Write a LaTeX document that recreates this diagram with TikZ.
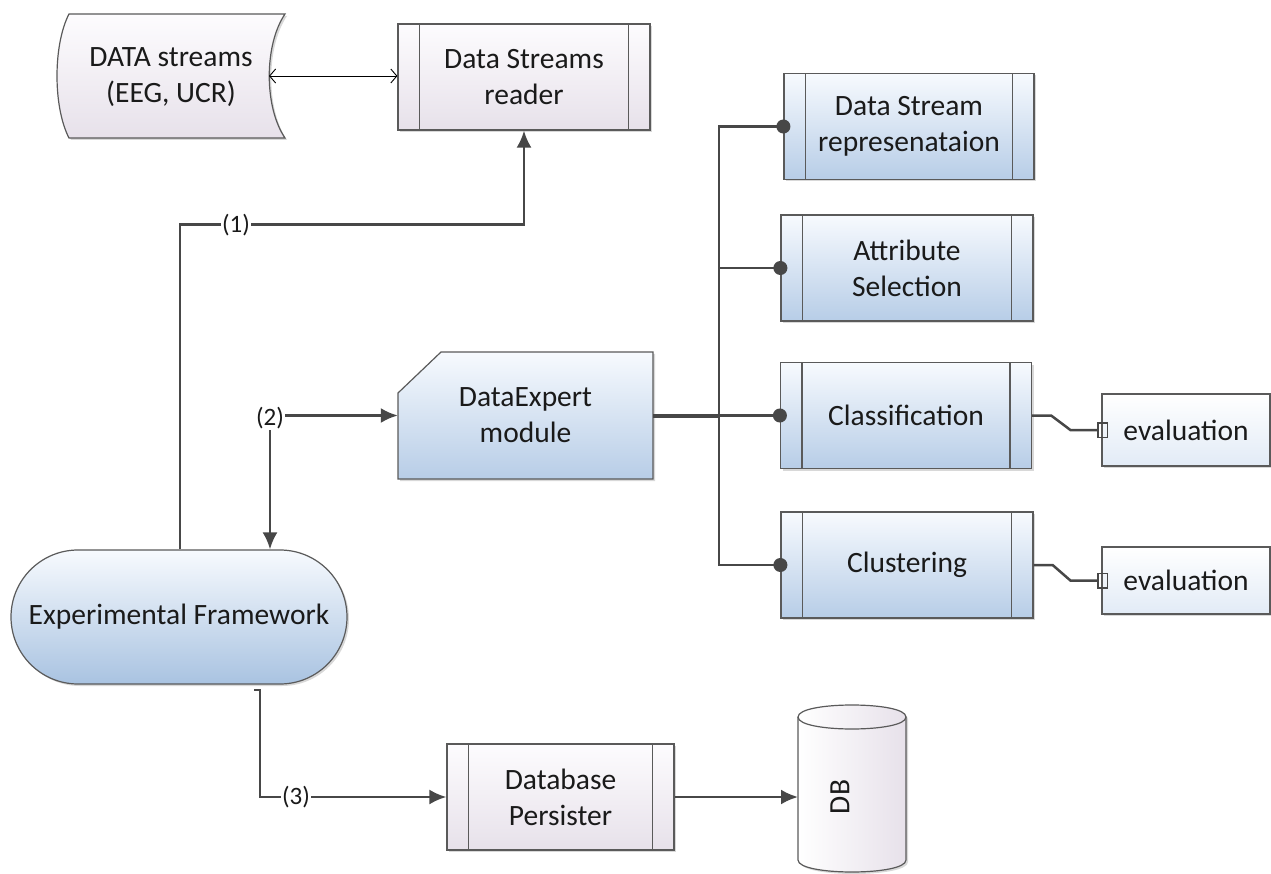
\documentclass[tikz,border=0pt]{standalone}
\usepackage{fontspec}
\setmainfont{Carlito}
\usetikzlibrary{arrows.meta,shapes.misc,shadows,calc}
\definecolor{outl}{HTML}{5A5A5A}
\definecolor{conn}{HTML}{474747}
\definecolor{bluebot}{HTML}{B7CDE7}
\definecolor{bluebotb}{HTML}{A9C3E1}
\definecolor{bluetop}{HTML}{F7FAFE}
\definecolor{pinkbot}{HTML}{E7E1EA}
\definecolor{pinktop}{HTML}{FDFCFE}
\definecolor{evalbot}{HTML}{E2EBF6}
\definecolor{txt}{HTML}{1A1A1A}
\begin{document}
\begin{tikzpicture}[x=1pt,y=-1pt,
  font=\fontsize{29.5}{36}\selectfont, text=txt,
  shad/.style={drop shadow={shadow xshift=2pt,shadow yshift=-2pt,fill=black!30,opacity=0.5}},
  boxbase/.style={rectangle, draw=outl, line width=1.2pt, align=center, inner sep=0pt, shad},
  bluefill/.style={top color=bluetop, bottom color=bluebot},
  pinkfill/.style={top color=pinktop, bottom color=pinkbot},
  subr/.style={boxbase, minimum width=#1, minimum height=106pt,
    path picture={\draw[outl,line width=1.2pt]
      ([xshift=21.5pt]path picture bounding box.north west) -- ([xshift=21.5pt]path picture bounding box.south west)
      ([xshift=-21.5pt]path picture bounding box.north east) -- ([xshift=-21.5pt]path picture bounding box.south east);}},
  cline/.style={draw=conn, line width=2.5pt},
  arr/.style={cline, -{Latex[length=17pt,width=15pt]}},
  dotend/.style={cline, -{Circle[length=14pt]}, shorten >=-7pt},
  sqend/.style={cline, -{Square[open,length=11pt,width=16pt,line width=1.5pt]}, shorten >=-7pt},
  lbl/.style={fill=white, inner sep=1.5pt, font=\fontsize{25}{28}\selectfont},
]
\useasboundingbox (0,0) rectangle (1271,874);

% DATA streams (stored data shape)
\path[pinkfill, draw=outl, line width=1.2pt, shad]
  (69,14) -- (285,14) .. controls (264,45) and (264,107) .. (285,138)
  -- (69,138) .. controls (53,107) and (53,45) .. (69,14) -- cycle;
\node[align=center] (dstr) at (171,77) {DATA streams\\(EEG, UCR)};
\coordinate (dsR) at (269,76);

% DataExpert module (cut corner)
\path[bluefill, draw=outl, line width=1.2pt, shad]
  (441,352) -- (653,352) -- (653,479) -- (398,479) -- (398,393) -- cycle;
\node[align=center, minimum width=255pt, minimum height=127pt, inner sep=0pt] (de) at (525.5,415.5) {DataExpert\\module};

% cylinder DB
\path[left color=white, right color=pinkbot, draw=outl, line width=1.2pt, shad]
  (798,717) -- (798,860) .. controls (798,876) and (906,876) .. (906,860)
  -- (906,717) .. controls (906,701) and (798,701) .. (798,717) -- cycle;
\draw[outl, line width=1.2pt] (798,717) .. controls (798,733) and (906,733) .. (906,717);
\node[rotate=90] (db) at (840,797) {DB};
\coordinate (dbL) at (798,797);

% subroutine boxes
\node[subr=252pt, pinkfill] (rd) at (524,77) {Data Streams\\reader};
\node[subr=250pt, bluefill] (dsr) at (909,126.5) {Data Stream\\represenataion};
\node[subr=252pt, bluefill] (ats) at (907,268) {Attribute\\Selection};
\node[subr=251pt, bluefill] (cls) at (906,415.5) {Classification};
\node[subr=252pt, bluefill] (clu) at (907,565) {Clustering};
\node[subr=227pt, pinkfill] (dbp) at (560.5,797) {Database\\Persister};

% evaluation boxes
\node[boxbase, top color=white, bottom color=evalbot, minimum width=168pt, minimum height=72pt] (ev1) at (1186,430) {evaluation};
\node[boxbase, top color=white, bottom color=evalbot, minimum width=168pt, minimum height=67pt] (ev2) at (1186,580.5) {evaluation};

% Experimental framework
\node[rounded rectangle, draw=outl, line width=1.2pt, minimum width=336pt, minimum height=134pt,
  inner sep=0pt, top color=bluetop, bottom color=bluebotb, shad] (ef) at (179,617) {Experimental Framework};

% connectors
\draw[black, line width=0.9pt, {Straight Barb[length=6pt,width=14pt]}-{Straight Barb[length=6pt,width=14pt]}]
  (dsR) -- (dsR -| rd.west);

\coordinate (x1) at (180,0);
\coordinate (x2) at (270,0);
\coordinate (bus) at (719,0);
\coordinate (c3) at (254,690);

\draw[arr] (ef.north -| x1) -- ++(0,-325) -| (rd.south);
\draw[arr, {Latex[length=17pt,width=15pt]}-{Latex[length=17pt,width=15pt]}] (ef.north -| x2) |- (de.west);
\draw[arr] (c3) -- ++(6,0) |- (dbp.west);
\draw[arr] (dbp.east) -- (dbL);

\draw[cline, line width=4pt] (de.east) -- (de.east -| bus);
\draw[dotend] (de.east -| bus) |- (dsr.west);
\draw[dotend] (de.east -| bus) |- (clu.west);
\draw[dotend] (ats.west -| bus) -- (ats.west);
\draw[dotend] (de.east -| bus) -- (cls.west);

\draw[sqend] (cls.east) -- ++(19,0) -- ($(ev1.west)+(-31,0)$) -- (ev1.west);
\draw[sqend] (clu.east) -- ++(19,0) -- ($(ev2.west)+(-31,0)$) -- (ev2.west);

% labels
\node[lbl] (l1) at (236,225) {(1)};
\node[lbl] (l2) at (270,418) {(2)};
\node[lbl] (l3) at (296,797) {(3)};
\end{tikzpicture}
\end{document}
